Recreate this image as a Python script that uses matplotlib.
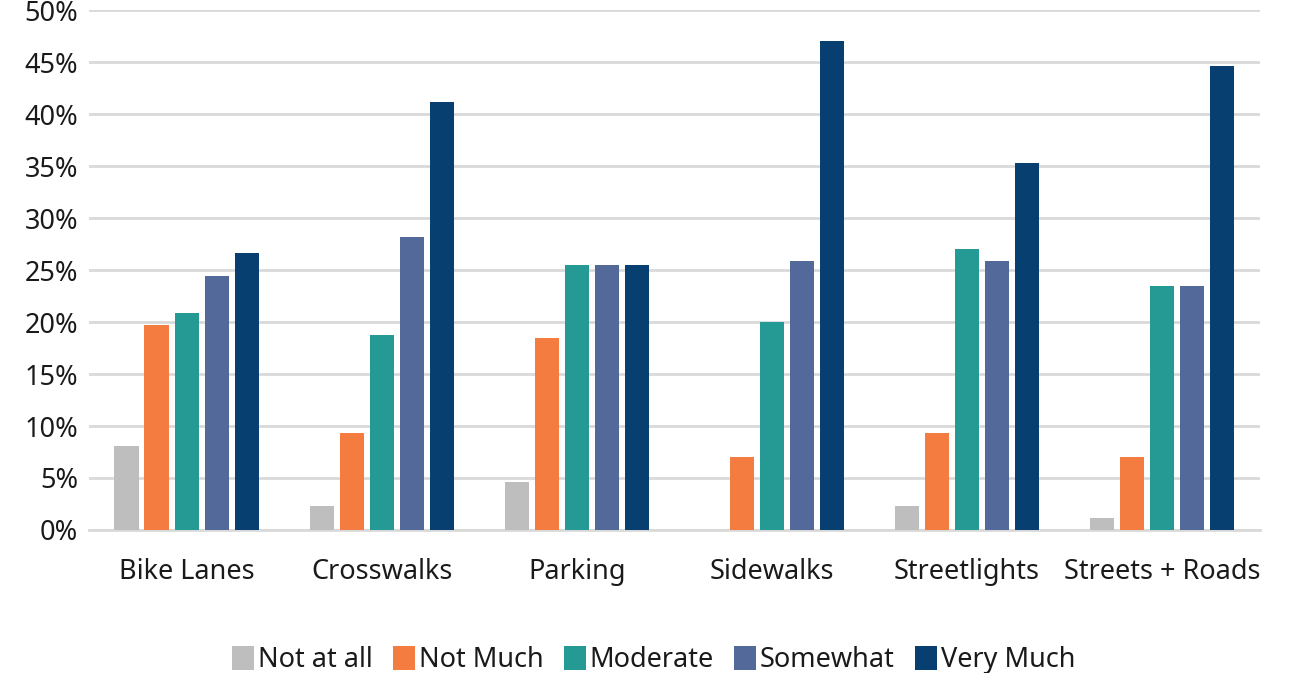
import matplotlib.pyplot as plt
import numpy as np

plt.rcParams['font.family'] = ['Noto Sans', 'DejaVu Sans']

categories = ['Bike Lanes', 'Crosswalks', 'Parking', 'Sidewalks', 'Streetlights', 'Streets + Roads']
series = ['Not at all', 'Not Much', 'Moderate', 'Somewhat', 'Very Much']
values = {
    'Not at all': [8.1, 2.3, 4.6, 0.0, 2.3, 1.2],
    'Not Much':   [19.7, 9.3, 18.5, 7.0, 9.3, 7.0],
    'Moderate':   [20.9, 18.8, 25.5, 20.0, 27.0, 23.5],
    'Somewhat':   [24.4, 28.2, 25.5, 25.9, 25.9, 23.5],
    'Very Much':  [26.6, 41.2, 25.5, 47.0, 35.3, 44.6],
}
colors = ['#BEBEBE', '#F47C40', '#259A95', '#52699A', '#063F70']

fig = plt.figure(figsize=(13, 6.73), dpi=100)
ax = fig.add_axes([0.0685, 0.2125, 0.9005, 0.7725])

x = np.arange(len(categories))
step = 0.154
width = 0.124
for i, (name, col) in enumerate(zip(series, colors)):
    ax.bar(x + (i - 2) * step, values[name], width=width, color=col, label=name, zorder=3)

ax.set_xlim(-0.5, len(categories) - 0.5)
ax.set_ylim(0, 50)
ax.set_yticks(np.arange(0, 51, 5))
ax.set_yticklabels([f'{v}%' for v in range(0, 51, 5)])
ax.set_xticks(x)
ax.set_xticklabels(categories)
ax.tick_params(axis='both', length=0, labelsize=19.5, colors='#1a1a1a')
ax.tick_params(axis='y', pad=8)
ax.tick_params(axis='x', pad=20)
ax.yaxis.grid(True, color='#D9D9D9', linewidth=2, zorder=0)
for s in ['top', 'right', 'left']:
    ax.spines[s].set_visible(False)
ax.spines['bottom'].set_color('#D9D9D9')
ax.spines['bottom'].set_linewidth(2)

fig.legend(loc='lower center', bbox_to_anchor=(0.503, -0.038), ncol=5, frameon=False,
           fontsize=19.5, handlelength=0.8, handleheight=1.0, handletextpad=0.15,
           columnspacing=0.75, labelcolor='#1a1a1a')

fig.savefig('out.png', dpi=100)
